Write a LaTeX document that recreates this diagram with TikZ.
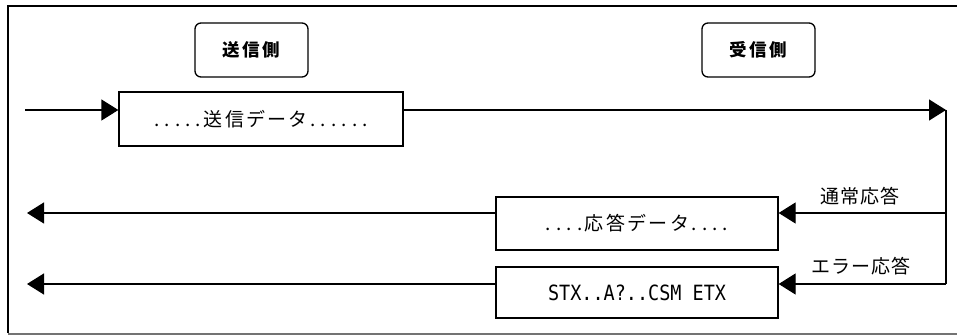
\documentclass[tikz,border=0pt]{standalone}
\usepackage{fontspec}
\usetikzlibrary{arrows.meta}
\newfontfamily\jp{Noto Sans CJK JP}
\newfontfamily\jpsp[LetterSpace=12]{Noto Sans CJK JP}
\newfontfamily\jplab[LetterSpace=4]{Noto Sans CJK JP}
\newfontfamily\jphead[LetterSpace=14]{Noto Sans CJK JP}
\newfontfamily\monof{DejaVu Sans Mono}
\newcommand\dotc{\makebox[10.4pt]{.}}
\begin{document}
\begin{tikzpicture}[x=1pt,y=-1pt,
  line/.style={line width=1.3pt,black},
  arr/.style={line, -{Triangle[length=17pt,width=21pt]}},
  head/.style={draw,line width=1.3pt,rounded corners=6pt,minimum width=113pt,minimum height=54pt,inner sep=0pt,
    font=\jphead\fontsize{17.5}{17.5}\selectfont\bfseries},
  databox/.style={draw,line width=1.3pt,minimum height=54pt,inner sep=0pt,fill=white},
  lab/.style={font=\jplab\fontsize{19}{19}\selectfont,inner sep=0pt}]
\useasboundingbox (0,0) rectangle (957,336);
% frame
\draw[line width=1.3pt] (957,6) -- (8,6) -- (8,333);
\draw[line width=1.5pt,black!55] (8,334) -- (957,334);
% headers
\node[head] (send) at (251.5,50) {送信側};
\node[head] (recv) at (758.5,50) {受信側};
% boxes
\node[databox,minimum width=284pt] (sd) at (261,119) {\jpsp\fontsize{19}{19}\selectfont\dotc\dotc\dotc\dotc\dotc 送信データ\dotc\dotc\dotc\dotc\dotc\dotc};
\node[databox,minimum width=282pt,minimum height=53pt] (rd) at (637,223.5) {\jpsp\fontsize{19}{19}\selectfont\dotc\dotc\dotc\dotc 応答データ\dotc\dotc\dotc\dotc};
\node[databox,minimum width=282pt,minimum height=51pt] (er) at (637,292.5) {\scalebox{0.88}[1]{\monof\fontsize{21}{21}\selectfont STX..A?..CSM ETX}};
% coordinates
\coordinate (in) at (25,110);
\coordinate (rx) at (946,110);
\coordinate (rm) at (946,213);
\coordinate (rb) at (946,284);
\coordinate (o1) at (27,213);
\coordinate (o2) at (27,284);
% connectors
\draw[arr] (in) -- (sd.west |- in);
\draw[arr] (sd.east |- rx) -- (rx);
\draw[line] (rx) -- (rb);
\draw[arr] (rm) -- (rd.east |- rm);
\draw[arr] (rb) -- (er.east |- rb);
\draw[arr] (rd.west |- o1) -- (o1);
\draw[arr] (er.west |- o2) -- (o2);
% labels
\node[lab] (l1) at (860,196) {通常応答};
\node[lab] (l2) at (861,266) {エラー応答};
\end{tikzpicture}
\end{document}
